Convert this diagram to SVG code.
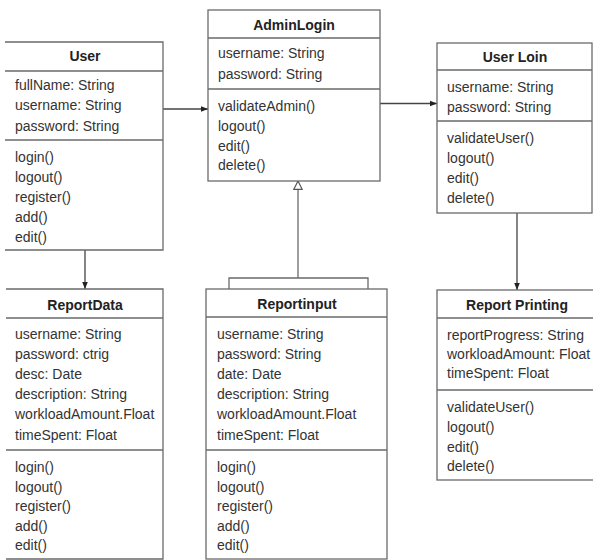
<svg xmlns="http://www.w3.org/2000/svg" width="593" height="560" viewBox="0 0 593 560">
<style>
  .box { fill: #ffffff; stroke: #6a6a6a; stroke-width: 1.3; }
  .ln { stroke: #6a6a6a; stroke-width: 1.3; fill: none; }
  .t { font-family: "Liberation Sans", Arial, sans-serif; font-size: 14px; fill: #333333; }
  .h { font-family: "Liberation Sans", Arial, sans-serif; font-size: 14px; font-weight: bold; fill: #222222; text-anchor: middle; }
  .conn { stroke: #444444; stroke-width: 1.3; fill: none; }
</style>
<defs>
  <marker id="arr" viewBox="0 0 10 10" refX="10" refY="5" markerWidth="7" markerHeight="7" orient="auto" markerUnits="userSpaceOnUse">
    <path d="M0,1 L10,5 L0,9 z" fill="#222222"/>
  </marker>
  <marker id="gen" viewBox="0 0 12 12" refX="11" refY="6" markerWidth="10" markerHeight="10" orient="auto" markerUnits="userSpaceOnUse">
    <path d="M1,1 L11,6 L1,11 z" fill="#ffffff" stroke="#555555" stroke-width="1.4"/>
  </marker>
</defs>
<rect width="593" height="560" fill="#ffffff"/>

<g id="connectors">
  <line class="conn" x1="163" y1="109" x2="208" y2="109" marker-end="url(#arr)"/>
  <line class="conn" x1="380" y1="103.5" x2="437" y2="103.5" marker-end="url(#arr)"/>
  <line class="conn" x1="85" y1="250" x2="85" y2="289" marker-end="url(#arr)"/>
  <line class="conn" x1="517" y1="213" x2="517" y2="290" marker-end="url(#arr)"/>
  <line class="ln" x1="298" y1="278" x2="298" y2="181" marker-end="url(#gen)"/>
  <path class="ln" d="M229,289 L229,278 L368,278 L368,289"/>
</g>

<g id="User">
  <path class="box" d="M5,42 L163,42 L163,250 L5,250"/>
  <line class="ln" x1="5" y1="71" x2="163" y2="71"/>
  <line class="ln" x1="5" y1="140" x2="163" y2="140"/>
  <text class="h" x="85" y="61">User</text>
  <text class="t" x="15" y="90">fullName: String</text>
  <text class="t" x="15" y="110">username: String</text>
  <text class="t" x="15" y="131">password: String</text>
  <text class="t" x="15" y="162">login()</text>
  <text class="t" x="15" y="182">logout()</text>
  <text class="t" x="15" y="202">register()</text>
  <text class="t" x="15" y="222">add()</text>
  <text class="t" x="15" y="242">edit()</text>
</g>

<g id="AdminLogin">
  <rect class="box" x="208" y="10" width="172" height="171"/>
  <line class="ln" x1="208" y1="38" x2="380" y2="38"/>
  <line class="ln" x1="208" y1="89" x2="380" y2="89"/>
  <text class="h" x="294" y="30">AdminLogin</text>
  <text class="t" x="218" y="58">username: String</text>
  <text class="t" x="218" y="79">password: String</text>
  <text class="t" x="218" y="111">validateAdmin()</text>
  <text class="t" x="218" y="131">logout()</text>
  <text class="t" x="218" y="151">edit()</text>
  <text class="t" x="218" y="170">delete()</text>
</g>

<g id="UserLoin">
  <rect class="box" x="437" y="43" width="155" height="170"/>
  <line class="ln" x1="437" y1="70" x2="592" y2="70"/>
  <line class="ln" x1="437" y1="121" x2="592" y2="121"/>
  <text class="h" x="515" y="62">User Loin</text>
  <text class="t" x="447" y="92">username: String</text>
  <text class="t" x="447" y="112">password: String</text>
  <text class="t" x="447" y="143">validateUser()</text>
  <text class="t" x="447" y="163">logout()</text>
  <text class="t" x="447" y="183">edit()</text>
  <text class="t" x="447" y="203">delete()</text>
</g>

<g id="ReportData">
  <path class="box" d="M6,289 L163,289 L163,559 L6,559"/>
  <line class="ln" x1="6" y1="318" x2="163" y2="318"/>
  <line class="ln" x1="6" y1="450" x2="163" y2="450"/>
  <text class="h" x="85" y="310">ReportData</text>
  <text class="t" x="15" y="339">username: String</text>
  <text class="t" x="15" y="359">password: ctrig</text>
  <text class="t" x="15" y="379">desc: Date</text>
  <text class="t" x="15" y="399">description: String</text>
  <text class="t" x="15" y="419">workloadAmount.Float</text>
  <text class="t" x="15" y="440">timeSpent: Float</text>
  <text class="t" x="15" y="472">login()</text>
  <text class="t" x="15" y="492">logout()</text>
  <text class="t" x="15" y="511">register()</text>
  <text class="t" x="15" y="531">add()</text>
  <text class="t" x="15" y="550">edit()</text>
</g>

<g id="ReportInput">
  <rect class="box" x="206" y="289" width="181" height="270"/>
  <line class="ln" x1="206" y1="317" x2="387" y2="317"/>
  <line class="ln" x1="206" y1="450" x2="387" y2="450"/>
  <text class="h" x="297" y="309">Reportinput</text>
  <text class="t" x="217" y="339">username: String</text>
  <text class="t" x="217" y="359">password: String</text>
  <text class="t" x="217" y="379">date: Date</text>
  <text class="t" x="217" y="399">description: String</text>
  <text class="t" x="217" y="419">workloadAmount.Float</text>
  <text class="t" x="217" y="440">timeSpent: Float</text>
  <text class="t" x="217" y="472">login()</text>
  <text class="t" x="217" y="492">logout()</text>
  <text class="t" x="217" y="511">register()</text>
  <text class="t" x="217" y="531">add()</text>
  <text class="t" x="217" y="550">edit()</text>
</g>

<g id="ReportPrinting">
  <rect class="box" x="437" y="290" width="160" height="190"/>
  <line class="ln" x1="437" y1="318" x2="597" y2="318"/>
  <line class="ln" x1="437" y1="390" x2="597" y2="390"/>
  <text class="h" x="517" y="310">Report Printing</text>
  <text class="t" x="447" y="340">reportProgress: String</text>
  <text class="t" x="447" y="359">workloadAmount: Float</text>
  <text class="t" x="447" y="378">timeSpent: Float</text>
  <text class="t" x="447" y="412">validateUser()</text>
  <text class="t" x="447" y="432">logout()</text>
  <text class="t" x="447" y="452">edit()</text>
  <text class="t" x="447" y="471">delete()</text>
</g>
</svg>
